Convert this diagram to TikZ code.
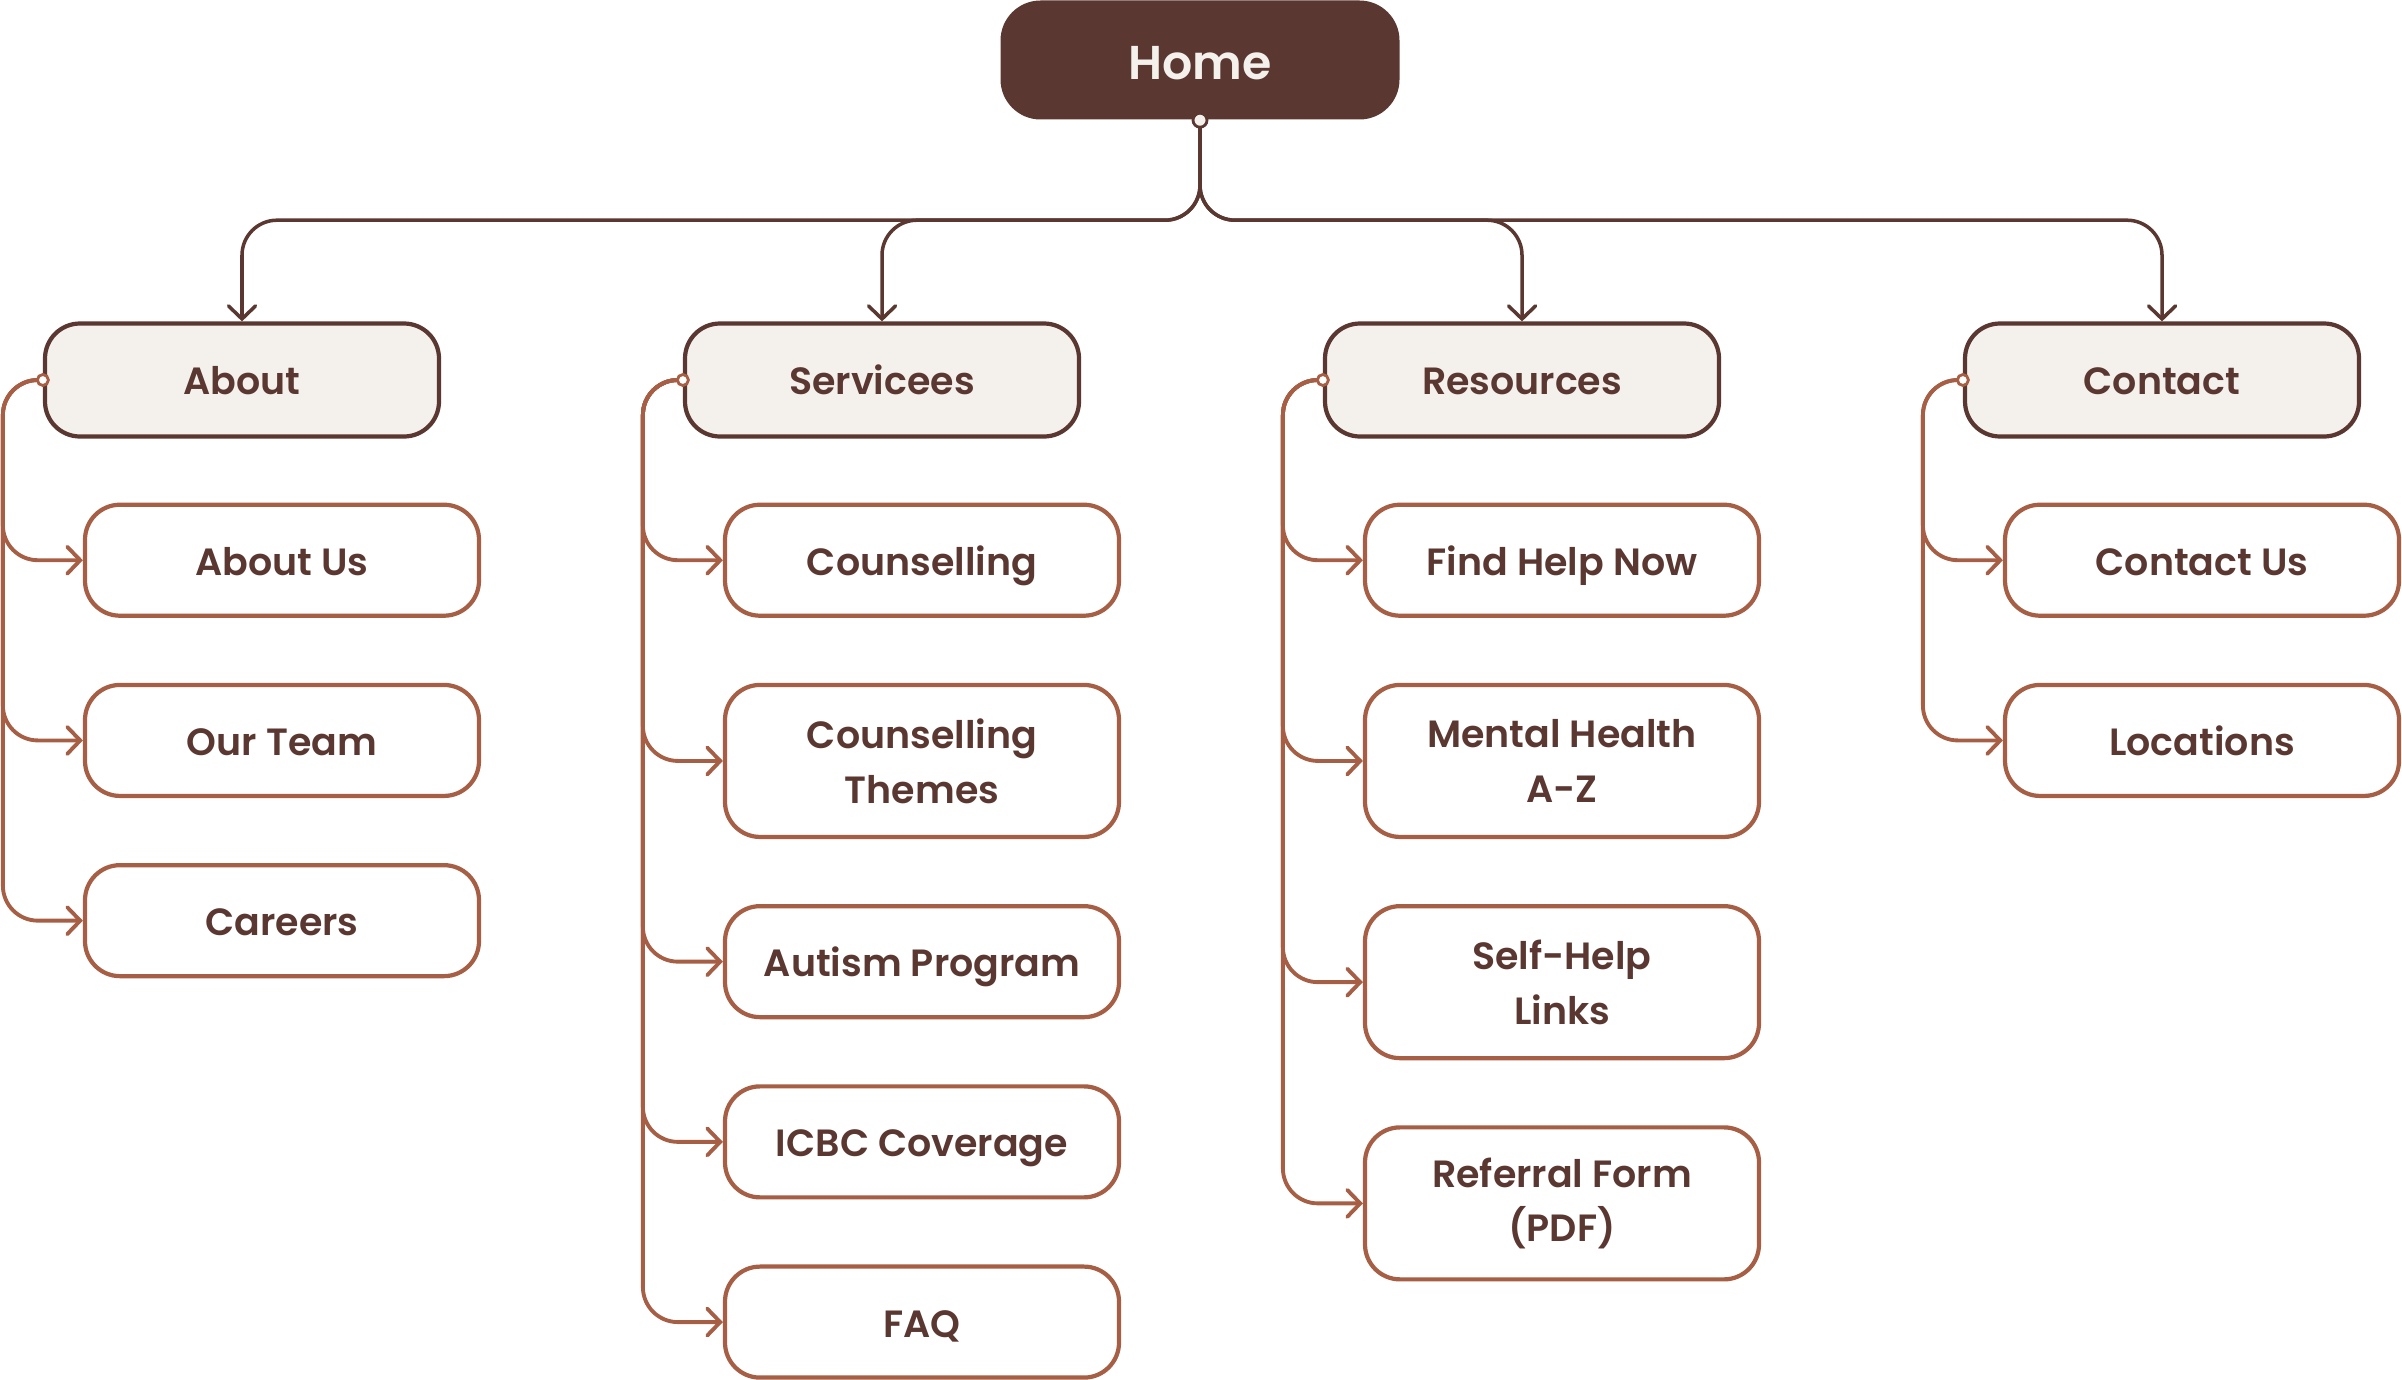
\documentclass[tikz,border=0pt]{standalone}
\usepackage{fontspec}
\setmainfont{Poppins}[BoldFont={* SemiBold}]
\usepackage{tikz}
\usetikzlibrary{arrows.meta,positioning}
\definecolor{brown}{RGB}{90,56,49}
\definecolor{cream}{RGB}{244,241,236}
\definecolor{rust}{RGB}{166,94,68}

\begin{document}
\begin{tikzpicture}[
    homebox/.style={fill=brown,text=cream,rounded corners=0.4cm,minimum width=3.99cm,minimum height=1.19cm,text height=10.9pt,text depth=0pt,font=\fontsize{13.5}{16}\selectfont\bfseries},
    secbox/.style={draw=brown,fill=cream,line width=1.2pt,rounded corners=0.35cm,minimum width=3.94cm,minimum height=1.13cm,text=brown,text height=8.4pt,text depth=0pt,font=\fontsize{10.8}{15.6}\selectfont\bfseries},
    pagebase/.style={draw=rust,fill=white,line width=1.2pt,rounded corners=0.35cm,minimum width=3.94cm,text=brown,align=center,font=\fontsize{10.8}{15.6}\selectfont\bfseries},
    pagebox/.style={pagebase,minimum height=1.11cm,text height=8.6pt,text depth=0pt},
    tallbox/.style={pagebase,minimum height=1.52cm},
    homelink/.style={brown,line width=1pt,rounded corners=0.35cm,-{Straight Barb[length=1.3mm,width=2.7mm,line cap=round]}},
    pagelink/.style={rust,line width=1.1pt,rounded corners=0.35cm,-{Straight Barb[length=1.3mm,width=2.7mm,line cap=round]}},
    homedot/.style={circle,inner sep=0pt,minimum size=1.4mm,fill=cream,draw=brown,line width=0.8pt},
    secdot/.style={circle,inner sep=0pt,minimum size=1.1mm,fill=white,draw=rust,line width=0.8pt},
    node distance=0.65cm
  ]
    \useasboundingbox (0,0) rectangle (24.02,-13.80);
    % top level
    \node[homebox] (home) at (12.00,-0.60) {Home};
    \node[secbox] (about) at (2.42,-3.80) {About};
    \node[secbox] (services) at (8.82,-3.80) {Servicees};
    \node[secbox] (resources) at (15.22,-3.80) {Resources};
    \node[secbox] (contact) at (21.62,-3.80) {Contact};
    % about
    \node[pagebox,below=0.64cm of about,xshift=0.4cm] (aboutus) {About Us};
    \node[pagebox,below=of aboutus] (ourteam) {Our Team};
    \node[pagebox,below=of ourteam] (careers) {Careers};
    % services
    \node[pagebox,below=0.64cm of services,xshift=0.4cm] (counselling) {Counselling};
    \node[tallbox,below=of counselling] (themes) {Counselling\\Themes};
    \node[pagebox,below=of themes] (autism) {Autism Program};
    \node[pagebox,below=of autism] (icbc) {ICBC Coverage};
    \node[pagebox,below=of icbc] (faq) {FAQ};
    % resources
    \node[pagebox,below=0.64cm of resources,xshift=0.4cm] (findhelp) {Find Help Now};
    \node[tallbox,below=of findhelp] (mentalhealth) {Mental Health\\A-Z};
    \node[tallbox,below=of mentalhealth] (selfhelp) {Self-Help\\Links};
    \node[tallbox,below=of selfhelp] (referral) {Referral Form\\(PDF)};
    % contact
    \node[pagebox,below=0.64cm of contact,xshift=0.4cm] (contactus) {Contact Us};
    \node[pagebox,below=of contactus] (locations) {Locations};

    % links from home
    \draw[homelink] (home.south) -- ++(0,-1.0) -| (about.north);
    \draw[homelink] (home.south) -- ++(0,-1.0) -| (services.north);
    \draw[homelink] (home.south) -- ++(0,-1.0) -| (resources.north);
    \draw[homelink] (home.south) -- ++(0,-1.0) -| (contact.north);
    \node[homedot] at (home.south) {};

    % links to pages
    \draw[pagelink] (about.west) -- ++(-0.4,0) |- (aboutus.west);
    \draw[pagelink] (about.west) -- ++(-0.4,0) |- (ourteam.west);
    \draw[pagelink] (about.west) -- ++(-0.4,0) |- (careers.west);
    \draw[pagelink] (services.west) -- ++(-0.4,0) |- (counselling.west);
    \draw[pagelink] (services.west) -- ++(-0.4,0) |- (themes.west);
    \draw[pagelink] (services.west) -- ++(-0.4,0) |- (autism.west);
    \draw[pagelink] (services.west) -- ++(-0.4,0) |- (icbc.west);
    \draw[pagelink] (services.west) -- ++(-0.4,0) |- (faq.west);
    \draw[pagelink] (resources.west) -- ++(-0.4,0) |- (findhelp.west);
    \draw[pagelink] (resources.west) -- ++(-0.4,0) |- (mentalhealth.west);
    \draw[pagelink] (resources.west) -- ++(-0.4,0) |- (selfhelp.west);
    \draw[pagelink] (resources.west) -- ++(-0.4,0) |- (referral.west);
    \draw[pagelink] (contact.west) -- ++(-0.4,0) |- (contactus.west);
    \draw[pagelink] (contact.west) -- ++(-0.4,0) |- (locations.west);
    \node[secdot] at (about.west) {};
    \node[secdot] at (services.west) {};
    \node[secdot] at (resources.west) {};
    \node[secdot] at (contact.west) {};
  \end{tikzpicture}
\end{document}
